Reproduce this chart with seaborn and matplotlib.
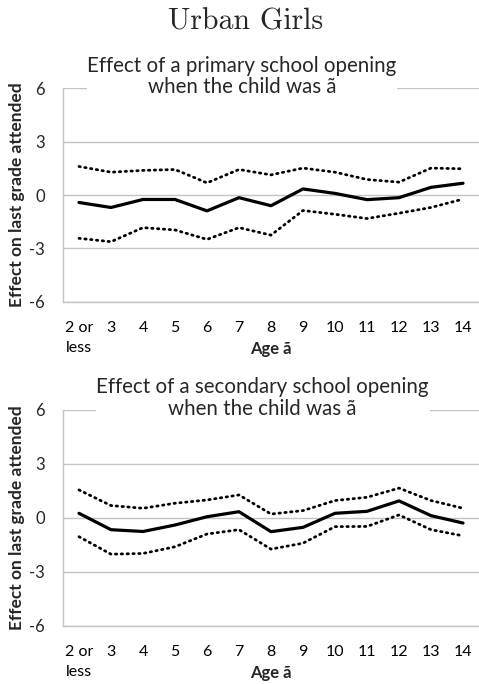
import numpy as np
import pandas as pd
import seaborn as sns
import matplotlib.pyplot as plt

# age categories on the x axis
ages = ['2 or\nless', '3', '4', '5', '6', '7', '8', '9', '10', '11', '12', '13', '14']

# primary school opening: estimate and confidence band
prim_est = [-0.42, -0.70, -0.25, -0.25, -0.89, -0.15, -0.60, 0.34, 0.09, -0.26, -0.15, 0.43, 0.66]
prim_hi = [1.60, 1.28, 1.38, 1.43, 0.68, 1.43, 1.13, 1.51, 1.28, 0.87, 0.72, 1.51, 1.47]
prim_lo = [-2.43, -2.62, -1.83, -1.96, -2.49, -1.83, -2.25, -0.87, -1.08, -1.32, -1.02, -0.70, -0.23]

# secondary school opening: estimate and confidence band
sec_est = [0.26, -0.65, -0.75, -0.39, 0.07, 0.35, -0.76, -0.52, 0.26, 0.37, 0.95, 0.13, -0.28]
sec_hi = [1.56, 0.69, 0.54, 0.82, 1.00, 1.28, 0.22, 0.41, 0.97, 1.15, 1.66, 0.97, 0.54]
sec_lo = [-1.04, -2.01, -1.97, -1.60, -0.89, -0.65, -1.73, -1.40, -0.48, -0.47, 0.17, -0.65, -0.99]

sns.set_style('white')
plt.rcParams['font.family'] = ['Lato', 'DejaVu Sans']

fig = plt.figure(figsize=(4.79, 6.84), dpi=100)
grid_col = '#c4c4c4'

panels = [
    (prim_est, prim_hi, prim_lo, 'Effect of a primary school opening\nwhen the child was ã',
     [0.1315, 0.5585, 0.8685, 0.3128], 0.43),
    (sec_est, sec_hi, sec_lo, 'Effect of a secondary school opening\nwhen the child was ã',
     [0.1315, 0.0848, 0.8685, 0.3158], 0.48),
]

pos = np.arange(len(ages))
for est, hi, lo, title, rect, tx in panels:
    ax = fig.add_axes(rect)
    df = pd.DataFrame({'pos': pos, 'est': est, 'hi': hi, 'lo': lo})
    # confidence bounds dotted, point estimate solid
    sns.lineplot(data=df, x='pos', y='hi', ax=ax, color='black', lw=2,
                 linestyle=(0, (0.5, 1.6)), dash_capstyle='round')
    sns.lineplot(data=df, x='pos', y='lo', ax=ax, color='black', lw=2,
                 linestyle=(0, (0.5, 1.6)), dash_capstyle='round')
    sns.lineplot(data=df, x='pos', y='est', ax=ax, color='black', lw=2.3)

    ax.set_xlim(-0.5, len(ages) - 0.5)
    ax.set_ylim(-6, 6)
    ax.set_yticks([-6, -3, 0, 3, 6])
    ax.set_yticklabels(['-6', '-3', '0', '3', '6'])
    ax.set_xticks(pos)
    ax.set_xticklabels(ages)
    ax.set_xticks(np.arange(-0.5, len(ages), 1.0), minor=True)
    ax.tick_params(axis='x', which='major', length=0, pad=14, labelsize=11.5, colors='black')
    ax.tick_params(axis='x', which='minor', length=6, width=1, color=grid_col, direction='out')
    ax.tick_params(axis='y', length=5, width=1, color=grid_col, direction='out',
                   pad=8, labelsize=12)
    for lab in ax.get_xticklabels():
        lab.set_verticalalignment('top')
        lab.set_linespacing(1.55)
    ax.grid(axis='y', color=grid_col, lw=1)
    for s in ['top', 'right']:
        ax.spines[s].set_visible(False)
    for s in ['left', 'bottom']:
        ax.spines[s].set_color(grid_col)
        ax.spines[s].set_linewidth(1)
    ax.set_ylabel('Effect on last grade attended', fontsize=12.5, fontweight='bold')
    ax.yaxis.set_label_coords(-0.092, 0.5)
    ax.set_xlabel('Age ã', fontsize=12, fontweight='bold', va='center')
    ax.xaxis.set_label_coords(0.5, -47 / 214)

    ax.text(tx, 1.054, title, transform=ax.transAxes, ha='center', va='center',
            multialignment='center', fontsize=14.8, linespacing=1.12,
            bbox=dict(facecolor='white', edgecolor='none', pad=0.5))

fig.text(0.512, 0.968, 'Urban Girls', family='cmr10', fontsize=21.5, ha='center', va='center')

fig.savefig('out.png', dpi=100)
